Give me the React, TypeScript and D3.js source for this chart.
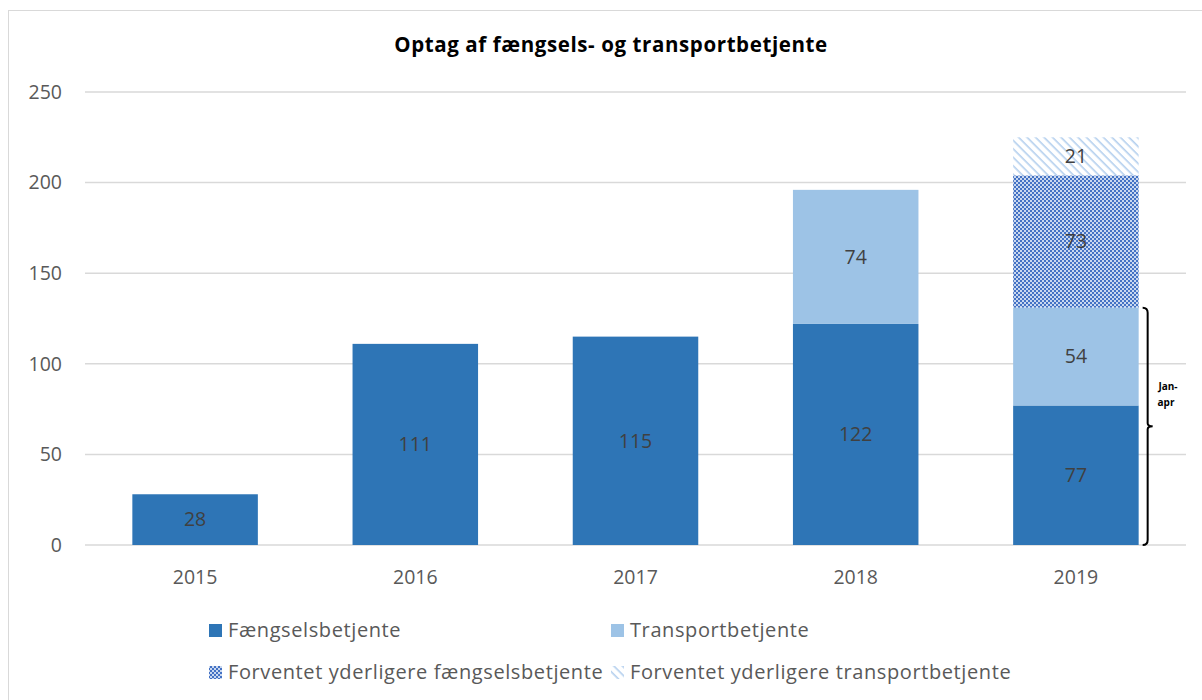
import React from "react";
import * as d3 from "d3";

const years = ["2015", "2016", "2017", "2018", "2019"];
const faengsel = [28, 111, 115, 122, 77];
const transport = [0, 0, 0, 74, 54];
const forvFaengsel = [0, 0, 0, 0, 73];
const forvTransport = [0, 0, 0, 0, 21];
const yTicks = [0, 50, 100, 150, 200, 250];
const seriesNames = [
  "Fængselsbetjente",
  "Transportbetjente",
  "Forventet yderligere fængselsbetjente",
  "Forventet yderligere transportbetjente",
];
const title = "Optag af fængsels- og transportbetjente";

const FONT = "'Open Sans', 'Noto Sans', sans-serif";
const TXT = "#595959";

export default function App() {
  const W = 1202, H = 700;
  const left = 85, right = 1186, top = 92, bottom = 545;
  const x = d3.scaleBand<string>().domain(years).range([left, right]).paddingInner(0.43).paddingOuter(0.215);
  const y = d3.scaleLinear().domain([0, 250]).range([bottom, top]);
  const fills = ["#2e75b6", "#9dc3e6", "url(#checker)", "url(#diag)"];
  const seriesData = [faengsel, transport, forvFaengsel, forvTransport];
  const stack = d3.stack<number>().keys(["0", "1", "2", "3"]).value((i, k) => seriesData[+k][i]);
  const stacked = stack(years.map((_, i) => i));

  const x19 = x("2019")!;
  const bx = x19 + x.bandwidth() + 9;
  const bTop = y(faengsel[4] + transport[4]);
  const bBot = y(0);
  const bMid = (bTop + bBot) / 2;

  return (
    <svg width={W} height={H} style={{ display: "block", position: "absolute", left: 0, top: 0 }} fontFamily={FONT}>
      <defs>
        <pattern id="checker" width="4" height="4" patternUnits="userSpaceOnUse">
          <rect width="4" height="4" fill="#c9d8f0" />
          <rect width="2" height="2" fill="#4472c4" />
          <rect x="2" y="2" width="2" height="2" fill="#4472c4" />
        </pattern>
        <pattern id="diag" width="6" height="6" patternUnits="userSpaceOnUse" patternTransform="rotate(45)">
          <rect width="6" height="6" fill="#ffffff" />
          <rect width="6" height="1.6" fill="#b4cfee" />
        </pattern>
      </defs>
      <rect x={0} y={0} width={W} height={H} fill="#fff" />
      <rect x={8.5} y={10.5} width={W} height={H} fill="none" stroke="#d9d9d9" />
      <text x={611} y={52} textAnchor="middle" fontWeight="bold" fontSize={20.5} letterSpacing={0.6} fill="#000">{title}</text>
      {yTicks.map((t) => (
        <g key={t}>
          <line x1={left} x2={right} y1={y(t)} y2={y(t)} stroke="#d9d9d9" strokeWidth={1.5} />
          <text x={62} y={y(t)} dy="0.35em" textAnchor="end" fontSize={19.5} fill={TXT}>{t}</text>
        </g>
      ))}
      {stacked.map((s, si) =>
        s.map((d, i) => {
          const v = seriesData[si][i];
          if (!v) return null;
          const y0 = y(d[0]), y1 = y(d[1]);
          return (
            <g key={si + "-" + i}>
              <rect x={x(years[i])} y={y1} width={x.bandwidth()} height={y0 - y1} fill={fills[si]} />
              <text x={x(years[i])! + x.bandwidth() / 2} y={(y0 + y1) / 2} dy="0.35em" textAnchor="middle" fontSize={19.5} fill="#404040">{v}</text>
            </g>
          );
        })
      )}
      {years.map((yr) => (
        <text key={yr} x={x(yr)! + x.bandwidth() / 2} y={577} dy="0.35em" textAnchor="middle" fontSize={19.5} fill={TXT}>{yr}</text>
      ))}
      <path
        d={`M${bx - 5},${bTop} Q${bx},${bTop} ${bx},${bTop + 5} L${bx},${bMid - 3} Q${bx},${bMid} ${bx + 5},${bMid} Q${bx},${bMid} ${bx},${bMid + 3} L${bx},${bBot - 5} Q${bx},${bBot} ${bx - 5},${bBot}`}
        fill="none" stroke="#000" strokeWidth={2}
      />
      <text x={1168} y={390} textAnchor="middle" fontSize={10} fontWeight="bold" fill="#000">Jan-</text>
      <text x={1166} y={406} textAnchor="middle" fontSize={10} fontWeight="bold" fill="#000">apr</text>
      {seriesNames.map((n, i) => {
        const lx = i % 2 === 0 ? 209 : 611;
        const ly = i < 2 ? 630 : 672;
        return (
          <g key={n}>
            <rect x={lx} y={ly - 6} width={13} height={13} fill={fills[i]} />
            <text x={lx + 19} y={ly} dy="0.35em" fontSize={20} letterSpacing={0.6} fill={TXT}>{n}</text>
          </g>
        );
      })}
    </svg>
  );
}
